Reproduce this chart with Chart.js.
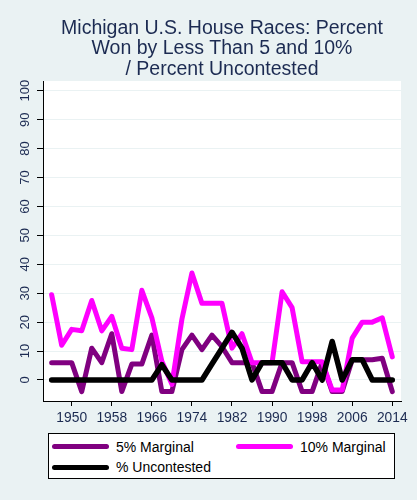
<!DOCTYPE html>
<html>
<head>
<meta charset="utf-8">
<title>Michigan U.S. House Races</title>
<script src="https://cdn.jsdelivr.net/npm/chart.js@4.4.1/dist/chart.umd.min.js"></script>
<style>
  html, body { margin: 0; padding: 0; background: #eaf2f3; }
  #wrap { position: relative; width: 417px; height: 500px; }
  #chart { position: absolute; left: 0; top: 0; }
  #legend {
    position: absolute; left: 48px; top: 433px; width: 345px; height: 44px;
    background: #fff; border: 1px solid #000;
    font-family: "Liberation Sans", Arial, sans-serif; font-size: 14px; color: #000;
  }
  .item { position: absolute; height: 20px; line-height: 20px; white-space: nowrap; }
  .swatch { position: absolute; left: 0; top: 7.5px; width: 57px; height: 5px; border-radius: 3px; }
  .label { position: absolute; left: 64px; top: 0; }
</style>
</head>
<body>
<div id="wrap">
  <canvas id="chart" width="417" height="500"></canvas>
  <div id="legend"></div>
</div>
<script>
// election years, one point every two years
var years = [1946, 1948, 1950, 1952, 1954, 1956, 1958, 1960, 1962, 1964,
             1966, 1968, 1970, 1972, 1974, 1976, 1978, 1980, 1982, 1984,
             1986, 1988, 1990, 1992, 1994, 1996, 1998, 2000, 2002, 2004,
             2006, 2008, 2010, 2012, 2014];

// values (percent of seats)
var marginal5 = [6, 6, 6, -4, 11, 6, 16, -4, 5.5, 5.5,
                 15.5, -4, -4, 10.5, 15.5, 10.5, 15.5, 11.5, 6, 6,
                 6, -4, -4, 6, 6, -4, -4, 6, -4, -4,
                 7, 7, 7, 7.5, -4];
var marginal10 = [29.5, 12, 17.5, 17, 27.5, 17, 22, 11, 10.5, 31,
                  21.5, 6.5, -1.5, 21, 37, 26.5, 26.5, 26.5, 11, 16,
                  6, 6, 6, 30.5, 25, 6.3, 6.3, 6.3, -3.5, -3.5,
                  14.5, 20, 20, 21.5, 8];
var uncontested = [0, 0, 0, 0, 0, 0, 0, 0, 0, 0,
                   0, 5.3, 0, 0, 0, 0, 5.5, 11, 16.5, 11,
                   0, 6, 6, 6, 0, 0, 6, 0, 13.3, 0,
                   7, 7, 0, 0, 0];

var yTicks = [0, 10, 20, 30, 40, 50, 60, 70, 80, 90, 100];
var xTicks = [1950, 1958, 1966, 1974, 1982, 1990, 1998, 2006, 2014];

var seriesLabels = ['5% Marginal', '10% Marginal', '% Uncontested'];
var seriesColors = ['#800080', '#ff00ff', '#000000'];
var titleLines = ['Michigan U.S. House Races: Percent',
                  'Won by Less Than 5 and 10%',
                  '/ Percent Uncontested'];

var FONT = "'Liberation Sans', Arial, sans-serif";
var INK = '#1c2b52';

function toPoints(values) {
    return values.map(function(v, i) { return { x: years[i], y: v }; });
}

// white plot region on the bluish graph background
var plotBackground = {
    id: 'plotBackground',
    beforeDraw: function(chart) {
        var a = chart.chartArea;
        var ctx = chart.ctx;
        ctx.save();
        ctx.fillStyle = '#ffffff';
        ctx.fillRect(a.left, a.top, a.right - a.left, a.bottom - a.top);
        ctx.restore();
    }
};

function lineSet(idx, width, order) {
    return {
        label: seriesLabels[idx],
        data: toPoints([marginal5, marginal10, uncontested][idx]),
        borderColor: seriesColors[idx],
        backgroundColor: seriesColors[idx],
        borderWidth: width,
        borderJoinStyle: 'round',
        borderCapStyle: 'round',
        pointRadius: 0,
        tension: 0,
        fill: false,
        order: order
    };
}

Chart.defaults.font.family = FONT;

new Chart(document.getElementById('chart'), {
    type: 'line',
    data: {
        datasets: [lineSet(0, 5, 2), lineSet(1, 5, 1), lineSet(2, 5.5, 0)]
    },
    plugins: [plotBackground],
    options: {
        responsive: false,
        animation: false,
        layout: { padding: { left: 0, right: 16, top: 0, bottom: 0 } },
        plugins: {
            legend: { display: false },
            tooltip: { enabled: false },
            title: {
                display: true,
                fullSize: false,
                text: titleLines,
                color: INK,
                font: { family: FONT, size: 19.5, weight: 'normal', lineHeight: 1.04 },
                padding: { top: 18.7, bottom: 1.5 }
            }
        },
        scales: {
            x: {
                type: 'linear',
                min: 1944.27,
                max: 2015.74,
                afterBuildTicks: function(scale) {
                    scale.ticks = xTicks.map(function(v) { return { value: v }; });
                },
                afterFit: function(scale) { scale.height = 99; },
                ticks: {
                    autoSkip: false,
                    minRotation: 0,
                    maxRotation: 0,
                    padding: 4,
                    color: INK,
                    font: { size: 13.8 },
                    callback: function(v) { return String(v); }
                },
                grid: { drawOnChartArea: false, tickLength: 5, tickColor: '#000' },
                border: { display: true, color: '#000', width: 1 }
            },
            y: {
                min: -7.26,
                max: 103.35,
                afterBuildTicks: function(scale) {
                    scale.ticks = yTicks.map(function(v) { return { value: v }; });
                },
                afterFit: function(scale) { scale.width = 43; },
                ticks: {
                    minRotation: 90,
                    maxRotation: 90,
                    crossAlign: 'center',
                    padding: 1,
                    color: INK,
                    font: { size: 13 },
                    callback: function(v) { return String(v); }
                },
                grid: { color: '#eaf2f3', lineWidth: 1, tickLength: 6, tickColor: '#000' },
                border: { display: true, color: '#000', width: 1 }
            }
        }
    }
});

// legend in the Stata style: two columns, boxed
var legendPos = [[3, 2.7], [187, 2.7], [3, 23.3]];
var legend = document.getElementById('legend');
seriesLabels.forEach(function(name, i) {
    var item = document.createElement('div');
    item.className = 'item';
    item.style.left = legendPos[i][0] + 'px';
    item.style.top = legendPos[i][1] + 'px';
    item.innerHTML = '<span class="swatch" style="background:' + seriesColors[i] + '"></span>' +
                     '<span class="label">' + name + '</span>';
    legend.appendChild(item);
});
</script>
</body>
</html>
